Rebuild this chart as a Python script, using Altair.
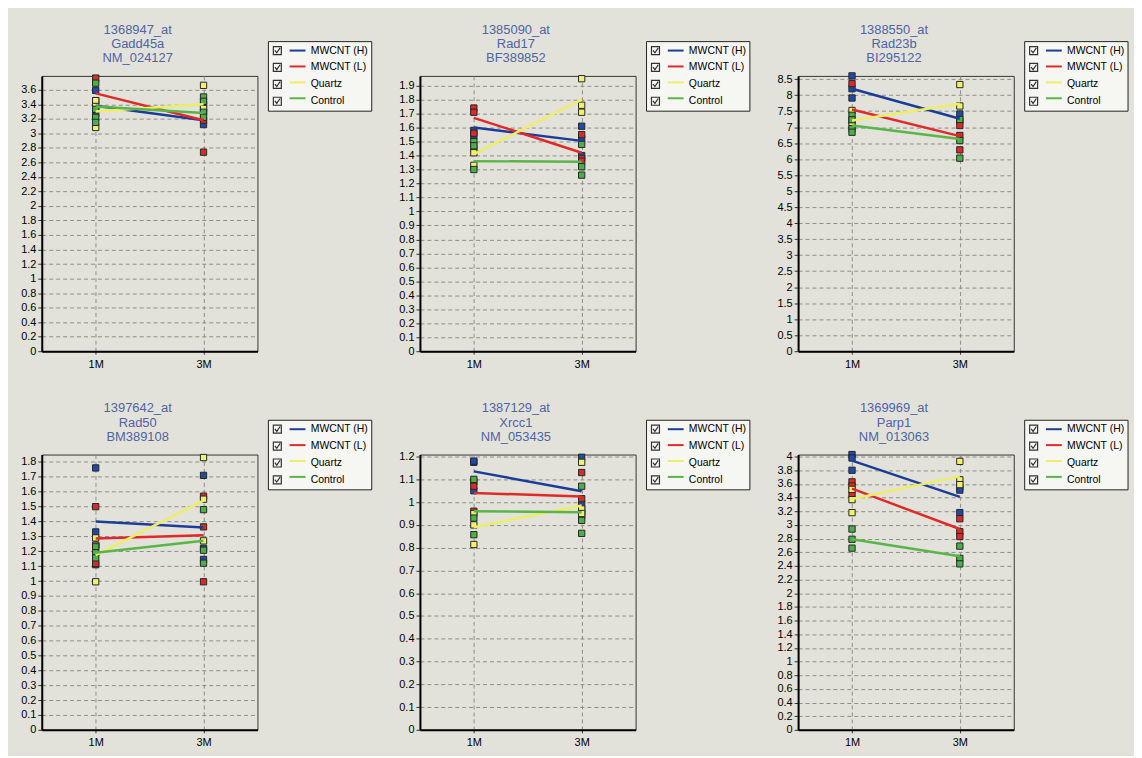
import altair as alt
import pandas as pd

GROUPS = ["MWCNT (H)", "MWCNT (L)", "Quartz", "Control"]
LINE_COLORS = ["#1c3c9a", "#e02a2a", "#eeee66", "#5ab548"]
POINT_COLORS = ["#1f4aa8", "#dc2a2a", "#f2f26a", "#4caf48"]
TIME_LABELS = ["1M", "3M"]

# Panel 1
P1_TITLE = ["1368947_at", "Gadd45a", "NM_024127"]
P1_1M = {"MWCNT (H)": [3.59, 3.27], "MWCNT (L)": [3.76, 3.45],
         "Quartz": [3.45, 3.37, 3.08], "Control": [3.69, 3.33, 3.22, 3.15]}
P1_3M = {"MWCNT (H)": [3.40, 3.12], "MWCNT (L)": [3.18, 3.30, 2.74],
         "Quartz": [3.66, 3.34], "Control": [3.50, 3.44, 3.29, 3.22]}
P1_MEAN_1M = [3.38, 3.55, 3.30, 3.37]
P1_MEAN_3M = [3.18, 3.18, 3.40, 3.28]
P1_AXIS = (3.79, 3.6, 0.2)

# Panel 2
P2_TITLE = ["1385090_at", "Rad17", "BF389852"]
P2_1M = {"MWCNT (H)": [1.58, 1.54], "MWCNT (L)": [1.74, 1.71, 1.56],
         "Quartz": [1.45, 1.42, 1.33], "Control": [1.50, 1.47, 1.30]}
P2_3M = {"MWCNT (H)": [1.61, 1.52, 1.40], "MWCNT (L)": [1.55, 1.38, 1.36],
         "Quartz": [1.95, 1.76, 1.71], "Control": [1.48, 1.32, 1.26]}
P2_MEAN_1M = [1.60, 1.67, 1.41, 1.36]
P2_MEAN_3M = [1.505, 1.42, 1.80, 1.355]
P2_AXIS = (1.97, 1.9, 0.1)

# Panel 3
P3_TITLE = ["1388550_at", "Rad23b", "BI295122"]
P3_1M = {"MWCNT (H)": [8.60, 8.20, 7.91], "MWCNT (L)": [8.36, 7.20],
         "Quartz": [7.52, 7.05], "Control": [7.37, 7.23, 6.95, 6.84]}
P3_3M = {"MWCNT (H)": [7.41, 7.20], "MWCNT (L)": [7.05, 6.74, 6.29],
         "Quartz": [8.33, 7.66], "Control": [7.24, 6.58, 6.03]}
P3_MEAN_1M = [8.20, 7.55, 7.21, 7.05]
P3_MEAN_3M = [7.26, 6.72, 7.73, 6.63]
P3_AXIS = (8.6, 8.5, 0.5)

# Panel 4
P4_TITLE = ["1397642_at", "Rad50", "BM389108"]
P4_1M = {"MWCNT (H)": [1.76, 1.33, 1.11], "MWCNT (L)": [1.50, 1.24, 1.118],
         "Quartz": [1.29, 1.24, 0.995], "Control": [1.23, 1.19, 1.156]}
P4_3M = {"MWCNT (H)": [1.71, 1.22, 1.145], "MWCNT (L)": [1.57, 1.364, 0.995],
         "Quartz": [1.83, 1.55, 1.27], "Control": [1.48, 1.207, 1.12]}
P4_MEAN_1M = [1.40, 1.286, 1.174, 1.19]
P4_MEAN_3M = [1.36, 1.308, 1.54, 1.27]
P4_AXIS = (1.85, 1.8, 0.1)

# Panel 5
P5_TITLE = ["1387129_at", "Xrcc1", "NM_053435"]
P5_1M = {"MWCNT (H)": [1.175, 1.18, 1.05], "MWCNT (L)": [1.09, 1.07, 0.96],
         "Quartz": [0.95, 0.90, 0.814], "Control": [1.10, 0.93, 0.857]}
P5_3M = {"MWCNT (H)": [1.197, 0.99, 0.96], "MWCNT (L)": [1.13, 1.015, 0.94],
         "Quartz": [1.175, 0.97, 0.95], "Control": [1.07, 0.92, 0.863]}
P5_MEAN_1M = [1.135, 1.04, 0.89, 0.96]
P5_MEAN_3M = [1.048, 1.025, 0.985, 0.956]
P5_AXIS = (1.209, 1.2, 0.1)

# Panel 6
P6_TITLE = ["1369969_at", "Parp1", "NM_013063"]
P6_1M = {"MWCNT (H)": [4.03, 3.98, 3.80], "MWCNT (L)": [3.63, 3.57, 3.44],
         "Quartz": [3.52, 3.37, 3.18], "Control": [2.94, 2.79, 2.66]}
P6_3M = {"MWCNT (H)": [3.55, 3.51, 3.18], "MWCNT (L)": [3.09, 2.90, 2.83],
         "Quartz": [3.93, 3.66, 3.59], "Control": [2.69, 2.51, 2.43]}
P6_MEAN_1M = [3.94, 3.53, 3.38, 2.79]
P6_MEAN_3M = [3.41, 2.94, 3.71, 2.54]
P6_AXIS = (4.03, 4.0, 0.2)

CHECK = "M-0.73,-0.73H0.73V0.73H-0.73Z M-0.45,-0.05L-0.1,0.4L0.5,-0.5"
# line sample drawn to the right of the checkbox slot
LINE_SYM = "M2.25,0H5.15"
FONT = "Liberation Sans"
LEG_X = 227.5
LEG_Y = -35.0


def panel(title, pts1, pts3, m1, m3, axis_spec):
    ymax, tick_top, step = axis_spec
    rows = []
    for ti, pts in ((1, pts1), (2, pts3)):
        for g in GROUPS:
            for v in pts[g]:
                rows.append({"t": ti, "g": g, "v": v})
    pdf = pd.DataFrame(rows)
    mrows = [{"t": 1, "s": g, "cb": g, "v": a} for g, a in zip(GROUPS, m1)]
    mrows += [{"t": 2, "s": g, "cb": g, "v": b} for g, b in zip(GROUPS, m3)]
    mdf = pd.DataFrame(mrows)
    n = int(round(tick_top / step))
    ticks = [round(i * step, 3) for i in range(n + 1)]

    x = alt.X("t:Q", scale=alt.Scale(domain=[0.5, 2.5], nice=False, zero=False),
              axis=alt.Axis(values=[1, 2], title=None, grid=True,
                            labelExpr=f"datum.value == 1 ? '{TIME_LABELS[0]}' : '{TIME_LABELS[1]}'",
                            labelFontSize=11, labelPadding=4, tickSize=3))
    y = alt.Y("v:Q", scale=alt.Scale(domain=[0, ymax], nice=False, zero=False),
              axis=alt.Axis(values=ticks, format=".1~f", title=None, grid=True))

    # legend frame with checkboxes and the group names
    boxes = alt.Chart(mdf).mark_point(opacity=0).encode(
        x=x, y=y,
        shape=alt.Shape("cb:N", sort=GROUPS, scale=alt.Scale(range=[CHECK] * 4),
                        legend=alt.Legend(title=None, orient="none", legendX=LEG_X, legendY=LEG_Y,
                                          symbolSize=121, symbolStrokeColor="#333",
                                          symbolStrokeWidth=1.2, symbolFillColor="transparent",
                                          symbolOpacity=1, labelFontSize=10.5,
                                          labelFont=FONT, labelColor="black",
                                          labelOffset=27.1, rowPadding=4, padding=3,
                                          fillColor="#f6f6f2", strokeColor="#222")))
    pts = alt.Chart(pdf).mark_square(size=40, filled=True, stroke="#262626",
                                     strokeWidth=1, opacity=1).encode(
        x=x, y=y,
        fill=alt.Fill("g:N", sort=GROUPS, scale=alt.Scale(range=POINT_COLORS), legend=None))
    # coloured line samples laid over the legend frame
    lines = alt.Chart(mdf).mark_line(strokeWidth=2.5).encode(
        x=x, y=y, order="t:Q",
        stroke=alt.Stroke("s:N", scale=alt.Scale(domain=GROUPS, range=LINE_COLORS),
                          legend=alt.Legend(title=None, orient="none", legendX=LEG_X, legendY=LEG_Y,
                                            symbolType=LINE_SYM, symbolSize=121,
                                            symbolStrokeWidth=2, labelFontSize=10.5,
                                            labelFont=FONT, labelExpr="' '",
                                            labelOffset=27.1, rowPadding=4, padding=3)))
    return alt.layer(boxes, pts, lines).properties(
        width=217, height=277,
        title=alt.TitleParams(text=title, frame="group", anchor="middle", dx=-12, dy=31,
                              fontSize=13, font=FONT, fontWeight="normal",
                              color="#4f64a5", lineHeight=14.5, offset=6))


panels = [
    panel(P1_TITLE, P1_1M, P1_3M, P1_MEAN_1M, P1_MEAN_3M, P1_AXIS),
    panel(P2_TITLE, P2_1M, P2_3M, P2_MEAN_1M, P2_MEAN_3M, P2_AXIS),
    panel(P3_TITLE, P3_1M, P3_3M, P3_MEAN_1M, P3_MEAN_3M, P3_AXIS),
    panel(P4_TITLE, P4_1M, P4_3M, P4_MEAN_1M, P4_MEAN_3M, P4_AXIS),
    panel(P5_TITLE, P5_1M, P5_3M, P5_MEAN_1M, P5_MEAN_3M, P5_AXIS),
    panel(P6_TITLE, P6_1M, P6_3M, P6_MEAN_1M, P6_MEAN_3M, P6_AXIS),
]

chart = alt.concat(*panels, columns=3, spacing={"row": 104, "column": 163.5},
                   bounds="flush").resolve_scale(
    x="independent", y="independent", fill="independent",
    stroke="independent", shape="independent"
).resolve_legend(
    fill="independent", stroke="independent", shape="independent"
).properties(
    background="#e2e2da",
    padding={"left": 12, "top": 13, "right": 5, "bottom": 5},
).configure_view(
    stroke="#333", strokeWidth=1
).configure_axis(
    labelFont=FONT, labelFontSize=11, labelColor="black",
    gridColor="#8c8c8c", gridDash=[4, 3], gridWidth=1,
    tickColor="#333", tickSize=4, domainColor="black", domainWidth=2
)

chart.save("out.html", embed_options={"renderer": "svg", "actions": False})
